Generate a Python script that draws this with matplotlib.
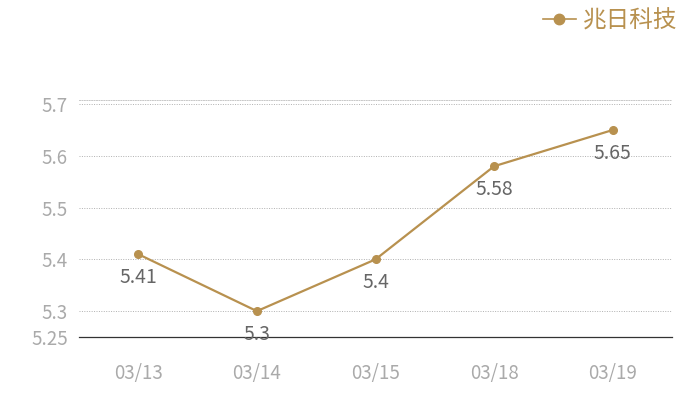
import matplotlib
matplotlib.use('Agg')
import matplotlib.pyplot as plt
from matplotlib.lines import Line2D

plt.rcParams['font.family'] = ['Noto Sans CJK SC', 'DejaVu Sans']

dates = ['03/13', '03/14', '03/15', '03/18', '03/19']
prices = [5.41, 5.30, 5.40, 5.58, 5.65]
price_labels = ['5.41', '5.3', '5.4', '5.58', '5.65']
y_ticks = [5.25, 5.3, 5.4, 5.5, 5.6, 5.7]
y_tick_labels = ['5.25', '5.3', '5.4', '5.5', '5.6', '5.7']
series_name = '兆日科技'

gold = '#b8914f'

fig = plt.figure(figsize=(7, 4), dpi=100)
ax = fig.add_axes([79/700, 63/400, 593/700, 237/400])

x = list(range(len(dates)))
ax.plot(x, prices, color=gold, lw=1.6, marker='o', ms=5.5, zorder=3)

for xi, p, lab in zip(x, prices, price_labels):
    ax.annotate(lab, (xi, p), xytext=(0, -17), textcoords='offset points',
                ha='center', va='center', fontsize=14, color='#666666')

ax.set_xlim(-0.5, len(dates) - 0.5)
ax.set_ylim(5.25, 5.708)
ax.set_xticks(x)
ax.set_xticklabels(dates)
ax.set_yticks(y_ticks)
ax.set_yticklabels(y_tick_labels)
ax.tick_params(length=0, labelsize=13.5, colors='#aaaaaa')
ax.tick_params(axis='x', pad=19)
ax.tick_params(axis='y', pad=8)

for t in y_ticks[1:]:
    ax.axhline(t, color='#b0b0b0', lw=0.7, ls=(0, (1, 1.5)), zorder=1)

for s in ['right', 'left']:
    ax.spines[s].set_visible(False)
ax.spines['top'].set_color('#c8c8c8')
ax.spines['top'].set_linewidth(0.7)
ax.spines['top'].set_linestyle((0, (1, 1.5)))
ax.spines['bottom'].set_color('#333333')
ax.spines['bottom'].set_linewidth(0.9)

handle = Line2D([], [], color=gold, lw=1.2, marker='o', ms=7.5)
fig.legend([handle], [series_name], loc='upper right', bbox_to_anchor=(0.998, 1.03),
           frameon=False, fontsize=17, labelcolor=gold, handlelength=1.4,
           handletextpad=0.3)

fig.savefig('out.png', dpi=100)
